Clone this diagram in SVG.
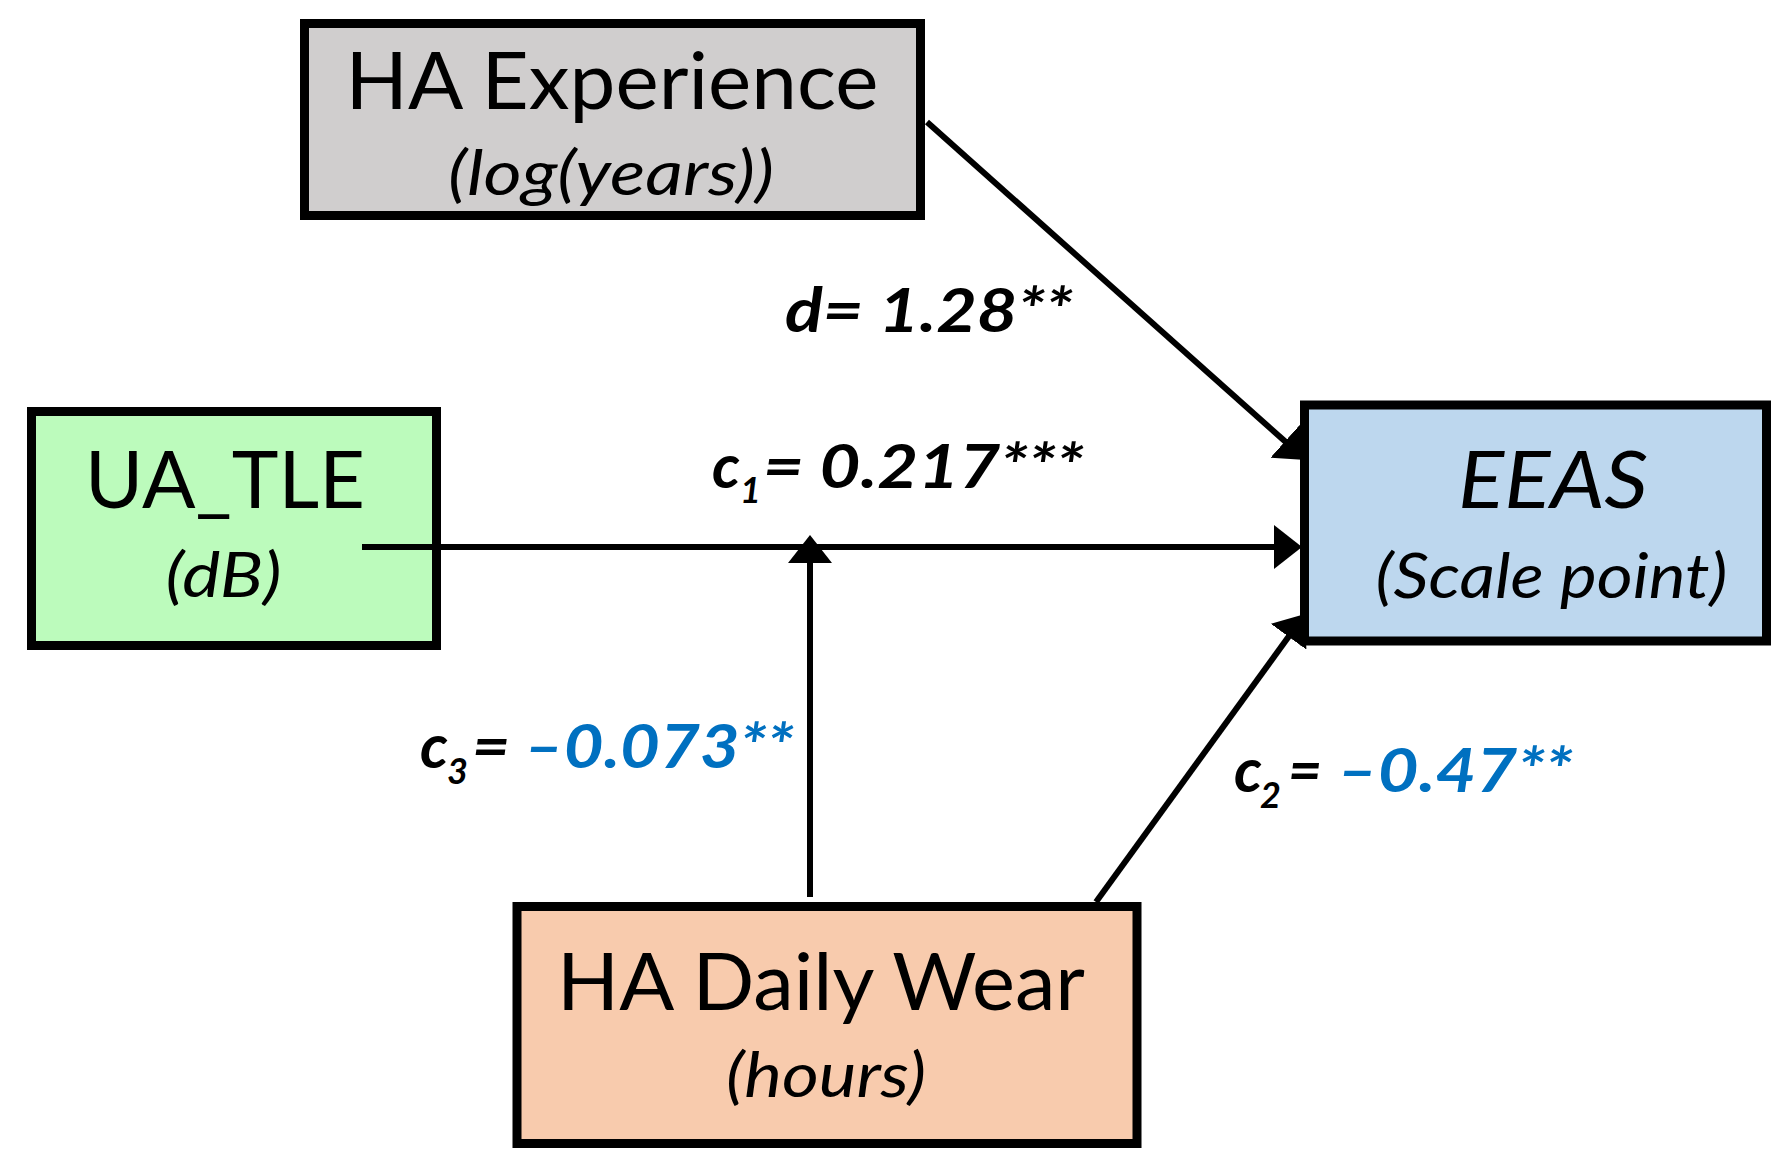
<svg xmlns="http://www.w3.org/2000/svg" width="1787" height="1167" viewBox="0 0 1787 1167">
  <style>
    .box { stroke: #000; stroke-width: 9; }
    .title { font-family: Lato, "Liberation Sans", Arial, sans-serif; font-size: 80px; fill: #000; text-anchor: middle; }
    .unit { font-family: Lato, "Liberation Sans", Arial, sans-serif; font-size: 63px; font-style: italic; fill: #000; text-anchor: middle; }
    .lbl { font-family: Lato, "Liberation Sans", Arial, sans-serif; font-size: 62px; font-style: italic; font-weight: bold; fill: #000; }
    .sub { font-family: Lato, "Liberation Sans", Arial, sans-serif; font-size: 36px; font-style: italic; font-weight: bold; fill: #000; }
    .blue { fill: #0070C0; }
    .conn { stroke: #000; stroke-width: 6; fill: none; marker-end: url(#arrow); }
  </style>
  <defs>
    <marker id="arrow" markerUnits="userSpaceOnUse" markerWidth="28" markerHeight="44" viewBox="0 0 28 44" refX="7" refY="22" orient="auto">
      <path d="M0,0 L28,22 L0,44 Z" fill="#000"/>
    </marker>
  </defs>
  <rect width="1787" height="1167" fill="#fff"/>

  <g id="node-ha-experience">
    <rect class="box" x="304.5" y="23.5" width="616" height="192" fill="#D0CECE"/>
    <text class="title" x="612" y="109" textLength="533" lengthAdjust="spacingAndGlyphs">HA Experience</text>
    <text class="unit" x="611" y="195" textLength="326" lengthAdjust="spacingAndGlyphs">(log(years))</text>
  </g>

  <g id="node-ua-tle">
    <rect class="box" x="31.5" y="411.5" width="405" height="234" fill="#BCFBBC"/>
    <text class="title" x="225" y="508" textLength="280" lengthAdjust="spacingAndGlyphs">UA_TLE</text>
    <text class="unit" x="223.5" y="597" textLength="116" lengthAdjust="spacingAndGlyphs">(dB)</text>
  </g>

  <g id="node-eeas">
    <rect class="box" x="1304.5" y="405" width="462" height="236" fill="#BDD7EE"/>
    <text class="unit" x="1553" y="508" style="font-size:80px" textLength="190" lengthAdjust="spacingAndGlyphs">EEAS</text>
    <text class="unit" x="1551.5" y="598" textLength="352" lengthAdjust="spacingAndGlyphs">(Scale point)</text>
  </g>

  <g id="node-ha-daily-wear">
    <rect class="box" x="517" y="906.5" width="620" height="237" fill="#F8CBAD"/>
    <text class="title" x="821" y="1010" textLength="528" lengthAdjust="spacingAndGlyphs">HA Daily Wear</text>
    <text class="unit" x="826" y="1097" textLength="200" lengthAdjust="spacingAndGlyphs">(hours)</text>
  </g>

  <g id="connectors">
    <line class="conn" x1="927" y1="122" x2="1290.3" y2="446"/>
    <line class="conn" x1="362" y1="547" x2="1281" y2="547"/>
    <line class="conn" x1="1096" y1="902" x2="1292.7" y2="631"/>
    <line class="conn" x1="810" y1="897" x2="810" y2="556"/>
  </g>

  <g id="labels">
    <text class="lbl" x="785" y="332" textLength="288" lengthAdjust="spacingAndGlyphs">d= 1.28**</text>

    <text class="lbl" x="712" y="488">c</text>
    <text class="sub" x="740" y="503">1</text>
    <text class="lbl" x="763" y="488" textLength="321" lengthAdjust="spacingAndGlyphs">= 0.217***</text>

    <text class="lbl" x="420" y="768">c</text>
    <text class="sub" x="447" y="784">3</text>
    <text class="lbl" x="472" y="768" textLength="38" lengthAdjust="spacingAndGlyphs">=</text>
    <text class="lbl blue" x="524" y="768" textLength="270" lengthAdjust="spacingAndGlyphs">–0.073**</text>

    <text class="lbl" x="1234" y="792">c</text>
    <text class="sub" x="1260" y="808">2</text>
    <text class="lbl" x="1288" y="792" textLength="34" lengthAdjust="spacingAndGlyphs">=</text>
    <text class="lbl blue" x="1337" y="792" textLength="236" lengthAdjust="spacingAndGlyphs">–0.47**</text>
  </g>
</svg>
